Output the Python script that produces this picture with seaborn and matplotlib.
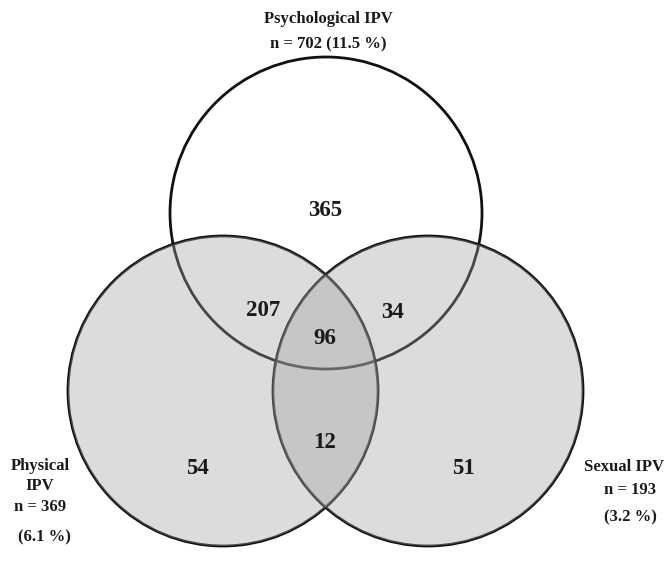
import matplotlib
matplotlib.use('Agg')
import matplotlib.pyplot as plt
import seaborn as sns
from matplotlib.patches import Circle

# regioni venn dijagrama (broj zena)
regije = ['psih', 'psih_fiz', 'psih_sek', 'sve', 'fiz_sek', 'fiz', 'sek']
brojevi = [365, 207, 34, 96, 12, 54, 51]

skupovi = ['Psychological IPV', 'Physical IPV', 'Sexual IPV']
ukupno = [702, 369, 193]
postotci = [11.5, 6.1, 3.2]

sns.set_theme(style='white')
plt.rcParams['font.family'] = ['Liberation Serif', 'DejaVu Serif']

fig = plt.figure(figsize=(6.65, 5.68), dpi=100)
ax = fig.add_axes([0, 0, 1, 1])
ax.set_xlim(0, 665)
ax.set_ylim(568, 0)
ax.axis('off')

# krugovi (pikselne koordinate)
krugovi = {'psih': (326, 213, 156), 'fiz': (223, 391, 155), 'sek': (428, 391, 155)}

# prvo rubovi
for k in ['psih', 'fiz', 'sek']:
    x, y, r = krugovi[k]
    ax.add_patch(Circle((x, y), r, facecolor='none', edgecolor='#111111', lw=2.0, zorder=1))

# ispuna preko rubova - unutarnji rubovi postaju sivi
for k in ['fiz', 'sek']:
    x, y, r = krugovi[k]
    ax.add_patch(Circle((x, y), r, facecolor=(0.63, 0.63, 0.65), edgecolor='none', alpha=0.37, zorder=2))

pozicije = {'psih': (325, 210), 'psih_fiz': (263, 310), 'psih_sek': (393, 312),
            'sve': (325, 338), 'fiz_sek': (325, 442), 'fiz': (197, 468), 'sek': (463, 468)}
for reg, br in zip(regije, brojevi):
    x, y = pozicije[reg]
    ax.text(x, y, str(br), ha='center', va='center', fontsize=16.5, fontweight='bold',
            color='#1a1a1a', zorder=3)

lab = dict(ha='center', va='center', fontsize=12, fontweight='bold', color='#1a1a1a')
ax.text(328, 19, skupovi[0], **lab)
ax.text(328, 44, f'n = {ukupno[0]} ({postotci[0]} %)', **lab)

ax.text(40, 466, 'Physical', **lab)
ax.text(40, 486, 'IPV', **lab)
ax.text(40, 507, f'n = {ukupno[1]}', **lab)
ax.text(44, 537, f'({postotci[1]} %)', **lab)

ax.text(624, 467, skupovi[2], **lab)
ax.text(630, 490, f'n = {ukupno[2]}', **lab)
ax.text(630, 517, f'({postotci[2]} %)', **lab)

fig.savefig('out.png', dpi=100, facecolor='white')
